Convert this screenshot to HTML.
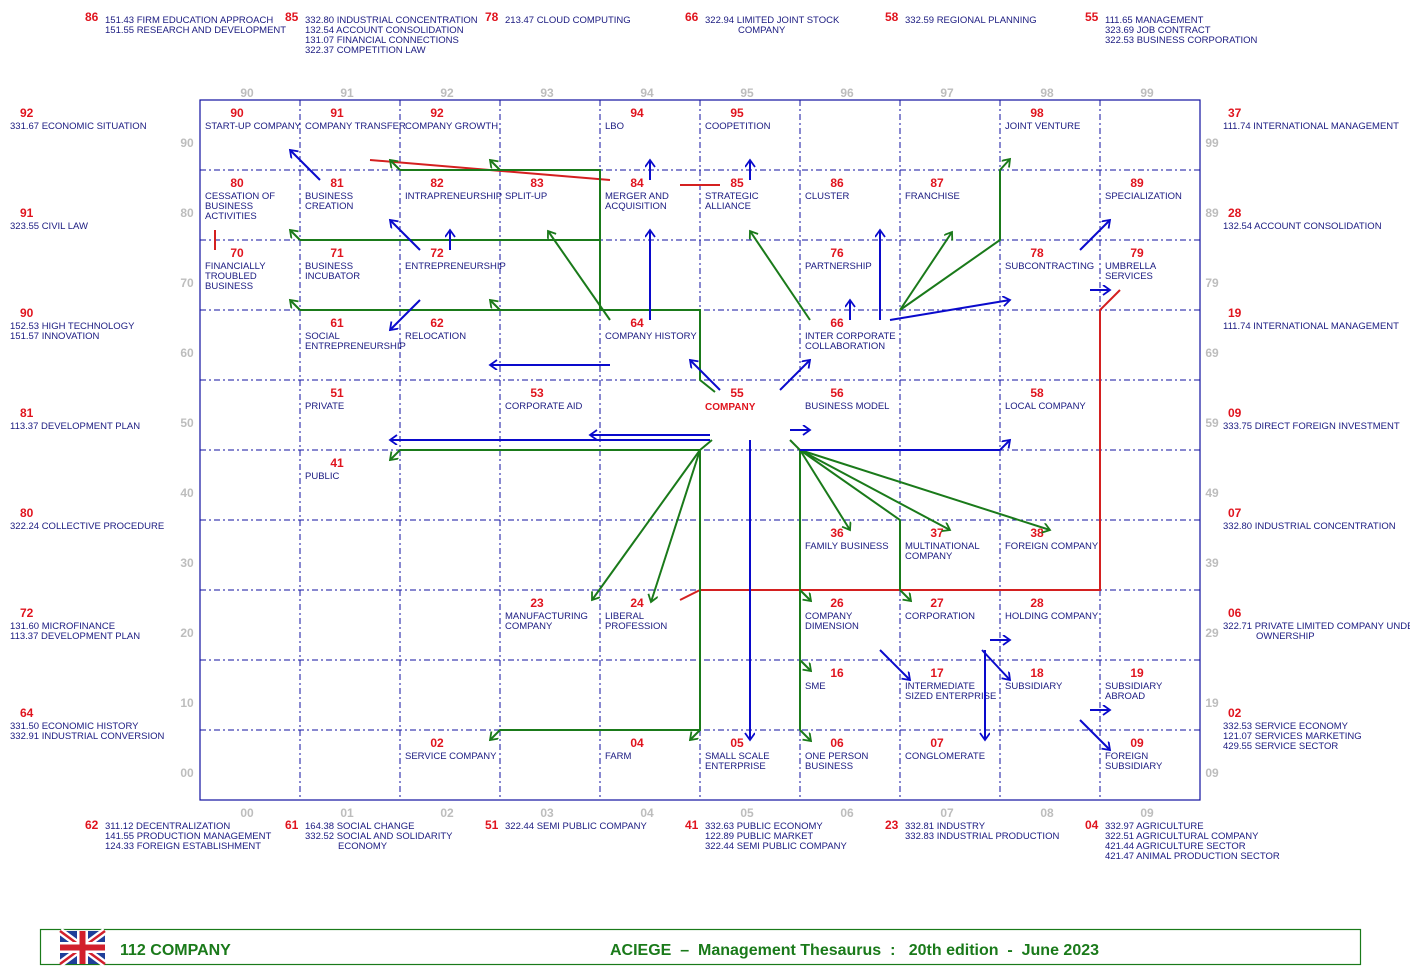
<!DOCTYPE html>
<html><head><meta charset="utf-8"><style>
html,body{margin:0;padding:0;background:#fff;}
svg{display:block;font-family:"Liberation Sans",Arial,sans-serif;}
.n{fill:#e0141e;font-size:12px;font-weight:bold;text-anchor:middle;}
.t{fill:#1a1a80;font-size:9.5px;}
.ax{fill:#bdbdbd;font-size:12px;font-weight:bold;text-anchor:middle;}
.on{fill:#e0141e;font-size:12px;font-weight:bold;}
.dl{stroke:#1010a0;stroke-width:1;stroke-dasharray:6,3,2,3;fill:none;}
.g{stroke:#1a7a1a;stroke-width:2;fill:none;}
.b{stroke:#0a0acc;stroke-width:2;fill:none;}
.r{stroke:#d42020;stroke-width:2;fill:none;}
</style></head><body>
<svg width="1410" height="980" viewBox="0 0 1410 980" xmlns="http://www.w3.org/2000/svg">
<defs>
<marker id="ag" markerUnits="userSpaceOnUse" markerWidth="12" markerHeight="12" refX="8" refY="5" orient="auto"><path d="M1,0 L8,5 L1,10" stroke="#1a7a1a" stroke-width="1.8" fill="none"/></marker>
<marker id="ab" markerUnits="userSpaceOnUse" markerWidth="12" markerHeight="12" refX="8" refY="5" orient="auto"><path d="M1,0 L8,5 L1,10" stroke="#0a0acc" stroke-width="1.8" fill="none"/></marker>
</defs>

<!-- top outside -->
<text class="on" x="85" y="21">86</text><text class="t" x="105" y="23">151.43 FIRM EDUCATION APPROACH</text><text class="t" x="105" y="33">151.55 RESEARCH AND DEVELOPMENT</text>
<text class="on" x="285" y="21">85</text><text class="t" x="305" y="23">332.80 INDUSTRIAL CONCENTRATION</text><text class="t" x="305" y="33">132.54 ACCOUNT CONSOLIDATION</text><text class="t" x="305" y="43">131.07 FINANCIAL CONNECTIONS</text><text class="t" x="305" y="53">322.37 COMPETITION LAW</text>
<text class="on" x="485" y="21">78</text><text class="t" x="505" y="23">213.47 CLOUD COMPUTING</text>
<text class="on" x="685" y="21">66</text><text class="t" x="705" y="23">322.94 LIMITED JOINT STOCK</text><text class="t" x="738" y="33">COMPANY</text>
<text class="on" x="885" y="21">58</text><text class="t" x="905" y="23">332.59 REGIONAL PLANNING</text>
<text class="on" x="1085" y="21">55</text><text class="t" x="1105" y="23">111.65 MANAGEMENT</text><text class="t" x="1105" y="33">323.69 JOB CONTRACT</text><text class="t" x="1105" y="43">322.53 BUSINESS CORPORATION</text>

<!-- left outside -->
<text class="on" x="20" y="117">92</text><text class="t" x="10" y="129">331.67 ECONOMIC SITUATION</text>
<text class="on" x="20" y="217">91</text><text class="t" x="10" y="229">323.55 CIVIL LAW</text>
<text class="on" x="20" y="317">90</text><text class="t" x="10" y="329">152.53 HIGH TECHNOLOGY</text><text class="t" x="10" y="339">151.57 INNOVATION</text>
<text class="on" x="20" y="417">81</text><text class="t" x="10" y="429">113.37 DEVELOPMENT PLAN</text>
<text class="on" x="20" y="517">80</text><text class="t" x="10" y="529">322.24 COLLECTIVE PROCEDURE</text>
<text class="on" x="20" y="617">72</text><text class="t" x="10" y="629">131.60 MICROFINANCE</text><text class="t" x="10" y="639">113.37 DEVELOPMENT PLAN</text>
<text class="on" x="20" y="717">64</text><text class="t" x="10" y="729">331.50 ECONOMIC HISTORY</text><text class="t" x="10" y="739">332.91 INDUSTRIAL CONVERSION</text>

<!-- right outside -->
<text class="on" x="1228" y="117">37</text><text class="t" x="1223" y="129">111.74 INTERNATIONAL MANAGEMENT</text>
<text class="on" x="1228" y="217">28</text><text class="t" x="1223" y="229">132.54 ACCOUNT CONSOLIDATION</text>
<text class="on" x="1228" y="317">19</text><text class="t" x="1223" y="329">111.74 INTERNATIONAL MANAGEMENT</text>
<text class="on" x="1228" y="417">09</text><text class="t" x="1223" y="429">333.75 DIRECT FOREIGN INVESTMENT</text>
<text class="on" x="1228" y="517">07</text><text class="t" x="1223" y="529">332.80 INDUSTRIAL CONCENTRATION</text>
<text class="on" x="1228" y="617">06</text><text class="t" x="1223" y="629">322.71 PRIVATE LIMITED COMPANY UNDER</text><text class="t" x="1256" y="639">OWNERSHIP</text>
<text class="on" x="1228" y="717">02</text><text class="t" x="1223" y="729">332.53 SERVICE ECONOMY</text><text class="t" x="1223" y="739">121.07 SERVICES MARKETING</text><text class="t" x="1223" y="749">429.55 SERVICE SECTOR</text>

<!-- bottom outside -->
<text class="on" x="85" y="829">62</text><text class="t" x="105" y="829">311.12 DECENTRALIZATION</text><text class="t" x="105" y="839">141.55 PRODUCTION MANAGEMENT</text><text class="t" x="105" y="849">124.33 FOREIGN ESTABLISHMENT</text>
<text class="on" x="285" y="829">61</text><text class="t" x="305" y="829">164.38 SOCIAL CHANGE</text><text class="t" x="305" y="839">332.52 SOCIAL AND SOLIDARITY</text><text class="t" x="338" y="849">ECONOMY</text>
<text class="on" x="485" y="829">51</text><text class="t" x="505" y="829">322.44 SEMI PUBLIC COMPANY</text>
<text class="on" x="685" y="829">41</text><text class="t" x="705" y="829">332.63 PUBLIC ECONOMY</text><text class="t" x="705" y="839">122.89 PUBLIC MARKET</text><text class="t" x="705" y="849">322.44 SEMI PUBLIC COMPANY</text>
<text class="on" x="885" y="829">23</text><text class="t" x="905" y="829">332.81 INDUSTRY</text><text class="t" x="905" y="839">332.83 INDUSTRIAL PRODUCTION</text>
<text class="on" x="1085" y="829">04</text><text class="t" x="1105" y="829">332.97 AGRICULTURE</text><text class="t" x="1105" y="839">322.51 AGRICULTURAL COMPANY</text><text class="t" x="1105" y="849">421.44 AGRICULTURE SECTOR</text><text class="t" x="1105" y="859">421.47 ANIMAL PRODUCTION SECTOR</text>

<!-- axis labels -->
<g class="ax">
<text x="247" y="97">90</text><text x="347" y="97">91</text><text x="447" y="97">92</text><text x="547" y="97">93</text><text x="647" y="97">94</text><text x="747" y="97">95</text><text x="847" y="97">96</text><text x="947" y="97">97</text><text x="1047" y="97">98</text><text x="1147" y="97">99</text>
<text x="247" y="817">00</text><text x="347" y="817">01</text><text x="447" y="817">02</text><text x="547" y="817">03</text><text x="647" y="817">04</text><text x="747" y="817">05</text><text x="847" y="817">06</text><text x="947" y="817">07</text><text x="1047" y="817">08</text><text x="1147" y="817">09</text>
<text x="187" y="147">90</text><text x="187" y="217">80</text><text x="187" y="287">70</text><text x="187" y="357">60</text><text x="187" y="427">50</text><text x="187" y="497">40</text><text x="187" y="567">30</text><text x="187" y="637">20</text><text x="187" y="707">10</text><text x="187" y="777">00</text>
<text x="1212" y="147">99</text><text x="1212" y="217">89</text><text x="1212" y="287">79</text><text x="1212" y="357">69</text><text x="1212" y="427">59</text><text x="1212" y="497">49</text><text x="1212" y="567">39</text><text x="1212" y="637">29</text><text x="1212" y="707">19</text><text x="1212" y="777">09</text>
</g>

<!-- grid -->
<rect x="200" y="100" width="1000" height="700" fill="none" stroke="#1010a0" stroke-width="1.2"/>
<g class="dl">
<path d="M200,170H1200M200,240H1200M200,310H1200M200,380H1200M200,450H1200M200,520H1200M200,590H1200M200,660H1200M200,730H1200"/>
<path d="M300,100V800M400,100V800M500,100V800M600,100V800M900,100V800M1000,100V800M1100,100V800"/>
<path d="M700,100V380M700,450V800M800,100V380M800,450V800"/>
</g>

<!-- cells -->
<g>
<text class="n" x="237" y="117">90</text><text class="t" x="205" y="129">START-UP COMPANY</text>
<text class="n" x="337" y="117">91</text><text class="t" x="305" y="129">COMPANY TRANSFER</text>
<text class="n" x="437" y="117">92</text><text class="t" x="405" y="129">COMPANY GROWTH</text>
<text class="n" x="637" y="117">94</text><text class="t" x="605" y="129">LBO</text>
<text class="n" x="737" y="117">95</text><text class="t" x="705" y="129">COOPETITION</text>
<text class="n" x="1037" y="117">98</text><text class="t" x="1005" y="129">JOINT VENTURE</text>

<text class="n" x="237" y="187">80</text><text class="t" x="205" y="199">CESSATION OF</text><text class="t" x="205" y="209">BUSINESS</text><text class="t" x="205" y="219">ACTIVITIES</text>
<text class="n" x="337" y="187">81</text><text class="t" x="305" y="199">BUSINESS</text><text class="t" x="305" y="209">CREATION</text>
<text class="n" x="437" y="187">82</text><text class="t" x="405" y="199">INTRAPRENEURSHIP</text>
<text class="n" x="537" y="187">83</text><text class="t" x="505" y="199">SPLIT-UP</text>
<text class="n" x="637" y="187">84</text><text class="t" x="605" y="199">MERGER AND</text><text class="t" x="605" y="209">ACQUISITION</text>
<text class="n" x="737" y="187">85</text><text class="t" x="705" y="199">STRATEGIC</text><text class="t" x="705" y="209">ALLIANCE</text>
<text class="n" x="837" y="187">86</text><text class="t" x="805" y="199">CLUSTER</text>
<text class="n" x="937" y="187">87</text><text class="t" x="905" y="199">FRANCHISE</text>
<text class="n" x="1137" y="187">89</text><text class="t" x="1105" y="199">SPECIALIZATION</text>

<text class="n" x="237" y="257">70</text><text class="t" x="205" y="269">FINANCIALLY</text><text class="t" x="205" y="279">TROUBLED</text><text class="t" x="205" y="289">BUSINESS</text>
<text class="n" x="337" y="257">71</text><text class="t" x="305" y="269">BUSINESS</text><text class="t" x="305" y="279">INCUBATOR</text>
<text class="n" x="437" y="257">72</text><text class="t" x="405" y="269">ENTREPRENEURSHIP</text>
<text class="n" x="837" y="257">76</text><text class="t" x="805" y="269">PARTNERSHIP</text>
<text class="n" x="1037" y="257">78</text><text class="t" x="1005" y="269">SUBCONTRACTING</text>
<text class="n" x="1137" y="257">79</text><text class="t" x="1105" y="269">UMBRELLA</text><text class="t" x="1105" y="279">SERVICES</text>

<text class="n" x="337" y="327">61</text><text class="t" x="305" y="339">SOCIAL</text><text class="t" x="305" y="349">ENTREPRENEURSHIP</text>
<text class="n" x="437" y="327">62</text><text class="t" x="405" y="339">RELOCATION</text>
<text class="n" x="637" y="327">64</text><text class="t" x="605" y="339">COMPANY HISTORY</text>
<text class="n" x="837" y="327">66</text><text class="t" x="805" y="339">INTER CORPORATE</text><text class="t" x="805" y="349">COLLABORATION</text>

<text class="n" x="337" y="397">51</text><text class="t" x="305" y="409">PRIVATE</text>
<text class="n" x="537" y="397">53</text><text class="t" x="505" y="409">CORPORATE AID</text>
<text class="n" x="737" y="397">55</text><text x="705" y="410" style="fill:#e0141e;font-size:10px;font-weight:bold;">COMPANY</text>
<text class="n" x="837" y="397">56</text><text class="t" x="805" y="409">BUSINESS MODEL</text>
<text class="n" x="1037" y="397">58</text><text class="t" x="1005" y="409">LOCAL COMPANY</text>

<text class="n" x="337" y="467">41</text><text class="t" x="305" y="479">PUBLIC</text>

<text class="n" x="837" y="537">36</text><text class="t" x="805" y="549">FAMILY BUSINESS</text>
<text class="n" x="937" y="537">37</text><text class="t" x="905" y="549">MULTINATIONAL</text><text class="t" x="905" y="559">COMPANY</text>
<text class="n" x="1037" y="537">38</text><text class="t" x="1005" y="549">FOREIGN COMPANY</text>

<text class="n" x="537" y="607">23</text><text class="t" x="505" y="619">MANUFACTURING</text><text class="t" x="505" y="629">COMPANY</text>
<text class="n" x="637" y="607">24</text><text class="t" x="605" y="619">LIBERAL</text><text class="t" x="605" y="629">PROFESSION</text>
<text class="n" x="837" y="607">26</text><text class="t" x="805" y="619">COMPANY</text><text class="t" x="805" y="629">DIMENSION</text>
<text class="n" x="937" y="607">27</text><text class="t" x="905" y="619">CORPORATION</text>
<text class="n" x="1037" y="607">28</text><text class="t" x="1005" y="619">HOLDING COMPANY</text>

<text class="n" x="837" y="677">16</text><text class="t" x="805" y="689">SME</text>
<text class="n" x="937" y="677">17</text><text class="t" x="905" y="689">INTERMEDIATE</text><text class="t" x="905" y="699">SIZED ENTERPRISE</text>
<text class="n" x="1037" y="677">18</text><text class="t" x="1005" y="689">SUBSIDIARY</text>
<text class="n" x="1137" y="677">19</text><text class="t" x="1105" y="689">SUBSIDIARY</text><text class="t" x="1105" y="699">ABROAD</text>

<text class="n" x="437" y="747">02</text><text class="t" x="405" y="759">SERVICE COMPANY</text>
<text class="n" x="637" y="747">04</text><text class="t" x="605" y="759">FARM</text>
<text class="n" x="737" y="747">05</text><text class="t" x="705" y="759">SMALL SCALE</text><text class="t" x="705" y="769">ENTERPRISE</text>
<text class="n" x="837" y="747">06</text><text class="t" x="805" y="759">ONE PERSON</text><text class="t" x="805" y="769">BUSINESS</text>
<text class="n" x="937" y="747">07</text><text class="t" x="905" y="759">CONGLOMERATE</text>
<text class="n" x="1137" y="747">09</text><text class="t" x="1105" y="759">FOREIGN</text><text class="t" x="1105" y="769">SUBSIDIARY</text>
</g>

<!-- red lines -->
<g class="r">
<path d="M370,160L610,180"/>
<path d="M680,185H720"/>
<path d="M215,230V250"/>
<path d="M700,590H1100V310L1120,290"/>
<path d="M680,600L700,590"/>
</g>

<!-- green lines -->
<g class="g">
<path d="M400,170H600V310M300,240H600M300,310H700V380L715,392"/>
<path d="M300,240L290,230" marker-end="url(#ag)"/>
<path d="M400,170L390,160" marker-end="url(#ag)"/>
<path d="M500,170L490,160" marker-end="url(#ag)"/>
<path d="M300,310L290,300" marker-end="url(#ag)"/>
<path d="M500,310L490,300" marker-end="url(#ag)"/>
<path d="M610,320L548,231" marker-end="url(#ag)"/>
<path d="M712,440L700,450H400L390,460" marker-end="url(#ag)"/>
<path d="M700,450V730H500L490,740" marker-end="url(#ag)"/>
<path d="M700,730L690,740" marker-end="url(#ag)"/>
<path d="M700,450L592,600" marker-end="url(#ag)"/>
<path d="M700,450L651,602" marker-end="url(#ag)"/>
<path d="M790,440L800,450V730L811,741" marker-end="url(#ag)"/>
<path d="M800,590L811,601" marker-end="url(#ag)"/>
<path d="M800,660L811,671" marker-end="url(#ag)"/>
<path d="M800,450L850,530" marker-end="url(#ag)"/>
<path d="M800,450L900,520V590L911,601" marker-end="url(#ag)"/>
<path d="M800,450L950,530" marker-end="url(#ag)"/>
<path d="M800,450L1050,530" marker-end="url(#ag)"/>
<path d="M810,320L750,231" marker-end="url(#ag)"/>
<path d="M900,310L952,232" marker-end="url(#ag)"/>
<path d="M900,310L1000,240V170L1010,159" marker-end="url(#ag)"/>
</g>

<!-- blue arrows -->
<g class="b">
<path d="M320,180L290,150" marker-end="url(#ab)"/>
<path d="M650,180V160" marker-end="url(#ab)"/>
<path d="M750,180V160" marker-end="url(#ab)"/>
<path d="M420,250L390,220" marker-end="url(#ab)"/>
<path d="M450,250V230" marker-end="url(#ab)"/>
<path d="M420,300L390,330" marker-end="url(#ab)"/>
<path d="M610,365H490" marker-end="url(#ab)"/>
<path d="M650,320V230" marker-end="url(#ab)"/>
<path d="M720,390L690,360" marker-end="url(#ab)"/>
<path d="M780,390L810,360" marker-end="url(#ab)"/>
<path d="M710,435H590" marker-end="url(#ab)"/>
<path d="M710,440H390" marker-end="url(#ab)"/>
<path d="M790,430H810" marker-end="url(#ab)"/>
<path d="M750,440V740" marker-end="url(#ab)"/>
<path d="M800,450H1000L1010,440" marker-end="url(#ab)"/>
<path d="M850,320V300" marker-end="url(#ab)"/>
<path d="M880,320V230" marker-end="url(#ab)"/>
<path d="M890,320L1010,300" marker-end="url(#ab)"/>
<path d="M1080,250L1110,220" marker-end="url(#ab)"/>
<path d="M1090,290H1110" marker-end="url(#ab)"/>
<path d="M990,640H1010" marker-end="url(#ab)"/>
<path d="M880,650L910,680" marker-end="url(#ab)"/>
<path d="M982,650L1010,680" marker-end="url(#ab)"/>
<path d="M985,650V740" marker-end="url(#ab)"/>
<path d="M1090,710H1110" marker-end="url(#ab)"/>
<path d="M1080,720L1110,750" marker-end="url(#ab)"/>
</g>

<!-- footer -->
<rect x="40.5" y="929.5" width="1320" height="35" fill="#fff" stroke="#1a7a1a" stroke-width="1.2"/>
<g transform="translate(60,931)">
<rect width="45" height="33" fill="#1f3f99"/>
<path d="M0,0L45,33M45,0L0,33" stroke="#fff" stroke-width="7"/>
<path d="M0,0L45,33M45,0L0,33" stroke="#d2202c" stroke-width="2.5"/>
<path d="M22.5,0V33M0,16.5H45" stroke="#fff" stroke-width="11"/>
<path d="M22.5,0V33M0,16.5H45" stroke="#d2202c" stroke-width="6"/>
</g>
<text x="120" y="955" style="fill:#1a7a1a;font-size:16px;font-weight:bold;">112  COMPANY</text>
<text x="610" y="955" style="fill:#1a7a1a;font-size:16px;font-weight:bold;" xml:space="preserve">ACIEGE  –  Management Thesaurus  :   20th edition  -  June 2023</text>
</svg>
</body></html>
